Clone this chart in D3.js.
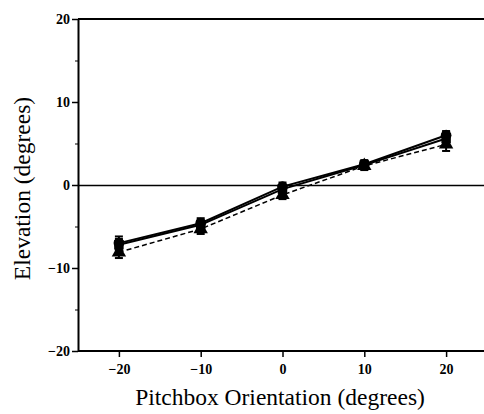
<!DOCTYPE html>
<html>
<head>
<meta charset="utf-8">
<script src="https://cdn.jsdelivr.net/npm/d3@7"></script>
<style>
  html, body { margin: 0; padding: 0; background: #fff; }
  svg { display: block; }
  .tick text { font-family: "Liberation Serif", "DejaVu Serif", serif; font-weight: bold; font-size: 14px; fill: #000; }
</style>
</head>
<body>
<div id="chart"></div>
<script>
const orientations = [-20, -10, 0, 10, 20];
const circleSeries = [-7.0, -4.6, -0.2, 2.5, 6.0];
const squareSeries = [-7.2, -4.8, -0.5, 2.4, 5.6];
const triangleSeries = [-8.1, -5.3, -1.2, 2.3, 4.9];
const circleErr = [0.8, 0.6, 0.5, 0.5, 0.5];
const squareErr = [0.7, 0.6, 0.5, 0.5, 0.5];
const triangleErr = [0.7, 0.6, 0.5, 0.5, 0.8];
const xTicks = [-20, -10, 0, 10, 20];
const yTicks = [-20, -10, 0, 10, 20];
const yMinorTicks = [-15, -5, 5, 15];

const width = 484, height = 414;
const svg = d3.select('#chart').append('svg')
    .attr('width', width)
    .attr('height', height);

const x = d3.scaleLinear().domain([-25, 25]).range([78, 487]);
const y = d3.scaleLinear().domain([-20, 20]).range([351, 19]);

// frame lines: top and zero line
svg.append('line')
    .attr('x1', x(-25)).attr('x2', width)
    .attr('y1', y(20)).attr('y2', y(20))
    .attr('stroke', '#000').attr('stroke-width', 2);
svg.append('line')
    .attr('x1', x(-25)).attr('x2', width)
    .attr('y1', Math.round(y(0)) + 0.5).attr('y2', Math.round(y(0)) + 0.5)
    .attr('stroke', '#000').attr('stroke-width', 1.5);

// axes
const xAxis = svg.append('g')
    .attr('transform', `translate(0,${y(-20)})`)
    .call(d3.axisBottom(x).tickValues(xTicks).tickSize(6).tickSizeOuter(0).tickPadding(7));
const yAxis = svg.append('g')
    .attr('transform', `translate(${x(-25)},0)`)
    .call(d3.axisLeft(y).tickValues(yTicks).tickSize(6).tickSizeOuter(0).tickPadding(2));
svg.append('g')
    .attr('transform', `translate(${x(-25)},0)`)
    .call(d3.axisLeft(y).tickValues(yMinorTicks).tickSize(3).tickSizeOuter(0).tickFormat(''))
    .select('.domain').remove();

[xAxis, yAxis].forEach(a => {
    a.select('.domain').attr('stroke-width', 2);
    a.selectAll('.tick line').attr('stroke-width', 1.5);
});
xAxis.select('.domain').attr('d', `M${x(-25)},0H${width}`);

// axis titles
svg.append('text')
    .attr('x', 280).attr('y', 405)
    .attr('text-anchor', 'middle')
    .style('font-family', '"Liberation Serif", "DejaVu Serif", serif')
    .style('font-size', '23.5px')
    .text('Pitchbox Orientation (degrees)');
svg.append('text')
    .attr('transform', `translate(30,${(95 + 282) / 2}) rotate(-90)`)
    .attr('text-anchor', 'middle')
    .style('font-family', '"Liberation Serif", "DejaVu Serif", serif')
    .style('font-size', '23.5px')
    .text('Elevation (degrees)');

const series = [
    { values: circleSeries, err: circleErr, shape: d3.symbolCircle, dash: null, w: 2 },
    { values: squareSeries, err: squareErr, shape: d3.symbolSquare, dash: null, w: 2 },
    { values: triangleSeries, err: triangleErr, shape: d3.symbolTriangle, dash: '5,3', w: 1.5 }
];

const line = d3.line().x(d => x(d[0])).y(d => y(d[1]));

series.forEach(s => {
    const pts = orientations.map((o, i) => [o, s.values[i], s.err[i]]);
    const g = svg.append('g');
    g.append('path')
        .datum(pts)
        .attr('d', line)
        .attr('fill', 'none')
        .attr('stroke', '#000')
        .attr('stroke-width', s.w)
        .attr('stroke-dasharray', s.dash);
    const eb = g.selectAll('.eb').data(pts).join('g');
    eb.append('line')
        .attr('x1', d => x(d[0])).attr('x2', d => x(d[0]))
        .attr('y1', d => y(d[1] - d[2])).attr('y2', d => y(d[1] + d[2]))
        .attr('stroke', '#000').attr('stroke-width', 2);
    eb.append('line')
        .attr('x1', d => x(d[0]) - 4).attr('x2', d => x(d[0]) + 4)
        .attr('y1', d => y(d[1] + d[2])).attr('y2', d => y(d[1] + d[2]))
        .attr('stroke', '#000').attr('stroke-width', 2);
    eb.append('line')
        .attr('x1', d => x(d[0]) - 4).attr('x2', d => x(d[0]) + 4)
        .attr('y1', d => y(d[1] - d[2])).attr('y2', d => y(d[1] - d[2]))
        .attr('stroke', '#000').attr('stroke-width', 2);
    g.selectAll('.mk').data(pts).join('path')
        .attr('transform', d => `translate(${x(d[0])},${y(d[1])})`)
        .attr('d', d3.symbol().type(s.shape).size(90))
        .attr('fill', '#000');
});
</script>
</body>
</html>
